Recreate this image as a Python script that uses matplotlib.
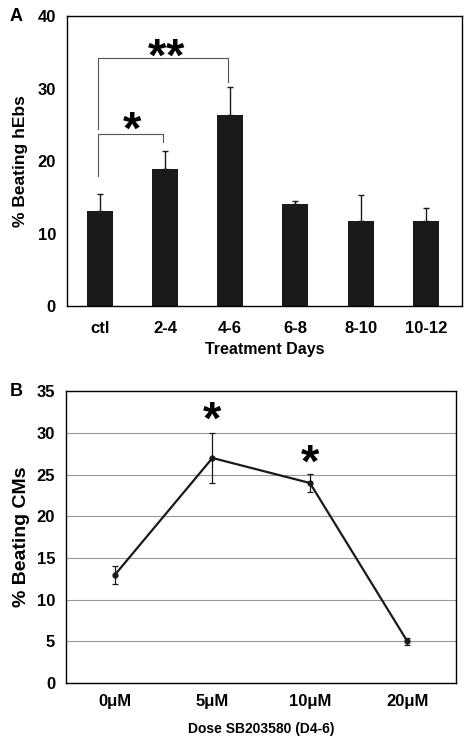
import numpy as np
import matplotlib
matplotlib.use("Agg")
import matplotlib.pyplot as plt

plt.rcParams['font.family'] = ['Liberation Sans', 'DejaVu Sans']
plt.rcParams['font.weight'] = 'bold'

# Panel A: % beating hEBs by treatment window
dias = ['ctl', '2-4', '4-6', '6-8', '8-10', '10-12']
beating_a = [13.1, 18.9, 26.4, 14.1, 11.7, 11.8]
error_a = [2.3, 2.5, 3.8, 0.4, 3.6, 1.8]

# Panel B: % beating CMs by dose
dosis = ['0μM', '5μM', '10μM', '20μM']
beating_b = [13.0, 27.0, 24.0, 5.0]
error_b = [1.1, 3.0, 1.1, 0.4]

fig = plt.figure(figsize=(4.66, 7.41), dpi=100)

# ---- Panel A ----
ax1 = fig.add_axes([0.144, 0.587, 0.847, 0.391])
xa = np.arange(len(dias))
ax1.bar(xa, beating_a, width=0.4, color='#1a1a1a')
ax1.errorbar(xa, beating_a, yerr=[np.zeros(len(error_a)), error_a], fmt='none',
             ecolor='#1a1a1a', elinewidth=1, capsize=2, capthick=1)
ax1.set_xlim(-0.5, 5.55)
ax1.set_ylim(0, 40)
ax1.set_yticks([0, 10, 20, 30, 40])
ax1.set_xticks(xa)
ax1.set_xticklabels(dias)
ax1.tick_params(length=0, labelsize=12)
ax1.tick_params(axis='x', pad=11)
ax1.tick_params(axis='y', pad=8)
ax1.set_ylabel('% Beating hEbs', fontsize=12.5, fontweight='bold', labelpad=7)
ax1.set_xlabel('Treatment Days', fontsize=11.5, fontweight='bold', labelpad=4)
for s in ax1.spines.values():
    s.set_linewidth(1)

# brackets de significancia
ax1.plot([-0.03, -0.03, 0.97, 0.97], [18.0, 23.8, 23.8, 22.6], color='#555555', lw=0.8)
ax1.text(0.5, 21.0, '*', ha='center', va='bottom', fontsize=34, fontweight='bold')
ax1.plot([-0.03, -0.03, 1.97, 1.97], [24.5, 34.2, 34.2, 30.9], color='#555555', lw=0.8)
ax1.text(0.88, 31.1, '*', ha='center', va='bottom', fontsize=34, fontweight='bold')
ax1.text(1.16, 31.1, '*', ha='center', va='bottom', fontsize=34, fontweight='bold')

fig.text(0.02, 0.978, 'A', fontsize=13, fontweight='bold', va='center')

# ---- Panel B ----
ax2 = fig.add_axes([0.142, 0.078, 0.837, 0.394])
xb = np.arange(len(dosis))
ax2.errorbar(xb, beating_b, yerr=error_b, color='#1a1a1a', lw=1.6, marker='o',
             markersize=3.5, ecolor='#1a1a1a', elinewidth=0.9, capsize=2, capthick=0.9)
ax2.set_xlim(-0.5, 3.5)
ax2.set_ylim(0, 35)
ax2.set_yticks(range(0, 36, 5))
ax2.set_xticks(xb)
ax2.set_xticklabels(dosis)
ax2.yaxis.grid(True, color='#999999', lw=0.8)
ax2.set_axisbelow(True)
ax2.tick_params(length=0, labelsize=12)
ax2.tick_params(axis='x', pad=8)
ax2.tick_params(axis='y', pad=8)
ax2.set_ylabel('% Beating CMs', fontsize=14, fontweight='bold', labelpad=5)
ax2.set_xlabel('Dose SB203580 (D4-6)', fontsize=10, fontweight='bold', labelpad=9)
for s in ax2.spines.values():
    s.set_linewidth(1)

ax2.text(1, 28.7, '*', ha='center', va='bottom', fontsize=34, fontweight='bold')
ax2.text(2, 23.6, '*', ha='center', va='bottom', fontsize=34, fontweight='bold')

fig.text(0.02, 0.472, 'B', fontsize=13, fontweight='bold', va='center')

fig.savefig('out.png', dpi=100)
